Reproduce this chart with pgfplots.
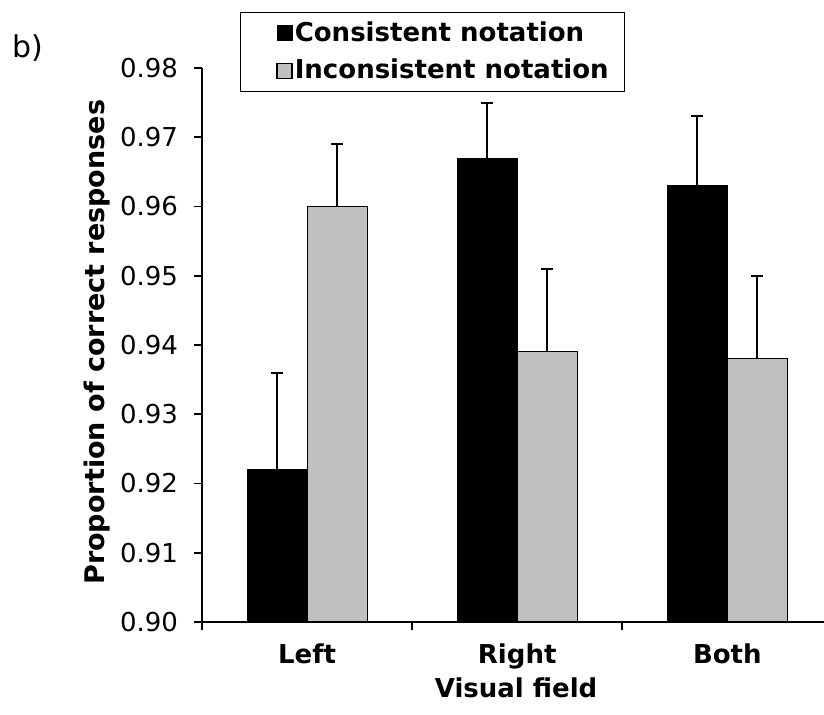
\documentclass[border=0pt]{standalone}
\usepackage{fontspec}
\setmainfont{DejaVu Sans}
\usepackage{pgfplots}
\pgfplotsset{compat=1.18}
\definecolor{bargray}{RGB}{192,192,192}
\begin{document}
\fontsize{13}{15}\selectfont
\begin{tikzpicture}
\useasboundingbox (-101pt,-46.5pt) rectangle (311pt,311pt);
\begin{axis}[
  at={(0pt,0pt)}, anchor=south west,
  scale only axis, width=311pt, height=277pt,
  ybar=0pt, bar width=30pt,
  xmin=-0.5, xmax=2.46, ymin=0.90, ymax=0.98,
  ytick={0.90,0.91,0.92,0.93,0.94,0.95,0.96,0.97,0.98},
  xtick={0,1,2}, xticklabels={Left,Right,Both},
  minor xtick={-0.5,0.5,1.5},
  axis x line*=bottom, axis y line*=left,
  axis line style={line width=0.8pt, -},
  tick align=outside,
  major tick length=4pt, minor tick length=4pt,
  every tick/.style={line width=0.8pt, black},
  x tick style={draw=none},
  minor x tick style={draw=black, line width=0.8pt},
  /pgf/number format/.cd, fixed, fixed zerofill, precision=2, assume math mode=true,
  /pgfplots/.cd,
  yticklabel style={font=\fontsize{13}{15}\selectfont, xshift=-3.5pt},
  xticklabel style={font=\fontsize{13}{15}\selectfont\bfseries, anchor=base, yshift=-17pt},
  xlabel={Visual field},
  ylabel={Proportion of correct responses},
  xlabel style={font=\fontsize{13}{15}\selectfont\bfseries, at={(axis description cs:0.505,-0.137)}, anchor=base},
  ylabel style={font=\fontsize{13.5}{15}\selectfont\bfseries, at={(axis description cs:-0.1688,0.505)}, anchor=center},
  legend style={at={(0.0611,1.101)}, anchor=north west, draw=black, line width=0.5pt,
    font=\fontsize{13}{15}\selectfont\bfseries, inner xsep=7pt, inner ysep=2.5pt,
    row sep=3pt, cells={anchor=west}, nodes={inner xsep=1pt}},
  legend cell align=left,
  error bars/y dir=plus, error bars/y explicit,
  error bars/error bar style={line width=1pt, black},
  error bars/error mark options={rotate=90, mark size=3pt, line width=1pt, black},
]
\addplot[fill=black, draw=black, line width=0.5pt,
  legend image code/.code={\path (-11pt,0pt); \draw[fill=black, draw=black, line width=0.5pt] (0pt,-3.75pt) rectangle (7.5pt,3.75pt);}]
  coordinates {(0,0.922) +- (0,0.014) (1,0.967) +- (0,0.008) (2,0.963) +- (0,0.010)};
\addlegendentry{Consistent notation}
\addplot[fill=bargray, draw=black, line width=0.5pt,
  legend image code/.code={\path (-11pt,0pt); \draw[fill=bargray, draw=black, line width=0.8pt] (0pt,-3.75pt) rectangle (7.5pt,3.75pt);}]
  coordinates {(0,0.960) +- (0,0.009) (1,0.939) +- (0,0.012) (2,0.938) +- (0,0.012)};
\addlegendentry{Inconsistent notation}
\end{axis}
\node[font=\fontsize{15}{17}\selectfont] at (-87pt,286.75pt) {b)};
\end{tikzpicture}
\end{document}
